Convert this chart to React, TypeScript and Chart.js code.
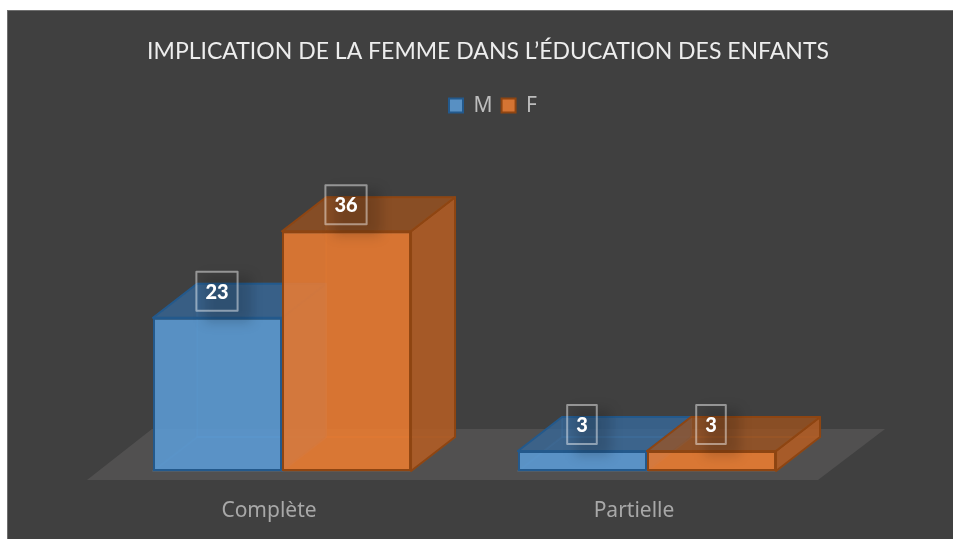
import React, { useEffect, useRef } from "react";
import { Chart, registerables } from "chart.js";

Chart.register(...registerables);

const categories = ["Complète", "Partielle"];
const seriesM = [23, 3];
const seriesF = [36, 3];
const seriesNames = ["M", "F"];

const DX = 44;
const DY = -34;

type Tone = { front: string; border: string; top: string; side: string; inner: string; edge: string };
const tones: Tone[] = [
  { front: "rgba(91,155,213,0.88)", border: "#23598c", top: "rgba(52,105,158,0.72)", side: "rgba(52,105,158,0.8)", inner: "rgba(91,155,213,0.10)", edge: "rgba(91,155,213,0.18)" },
  { front: "rgba(237,125,49,0.86)", border: "#8e4512", top: "rgba(160,82,28,0.72)", side: "rgba(176,92,36,0.88)", inner: "rgba(237,125,49,0.10)", edge: "rgba(237,125,49,0.14)" },
];

const poly = (ctx: CanvasRenderingContext2D, pts: number[][], fill: string, stroke?: string) => {
  ctx.beginPath();
  pts.forEach((p, i) => (i ? ctx.lineTo(p[0], p[1]) : ctx.moveTo(p[0], p[1])));
  ctx.closePath();
  ctx.fillStyle = fill;
  ctx.fill();
  if (stroke) {
    ctx.strokeStyle = stroke;
    ctx.lineWidth = 2;
    ctx.lineJoin = "round";
    ctx.stroke();
  }
};

const box3d = {
  id: "box3d",
  afterLayout(chart: any) {
    const lg = chart.legend;
    lg.left += 5;
    lg.right += 5;
    lg.top += 1.5;
    lg.bottom += 1.5;
  },
  beforeDatasetDraw() {
    return false;
  },
  beforeDatasetsDraw(chart: any) {
    const { ctx } = chart;
    const x = chart.scales.x;
    const base = chart.scales.y.getPixelForValue(0);
    poly(
      ctx,
      [
        [x.left - 12.5, base + 9],
        [x.left + 52.5, base - 42],
        [x.right + 55.5, base - 42],
        [x.right - 11.5, base + 9],
      ],
      "#515050"
    );
    chart.data.datasets.forEach((_: any, i: number) => {
      const t = tones[i];
      const meta = chart.getDatasetMeta(i);
      meta.data.forEach((b: any) => {
        const l = b.x - b.width / 2;
        const r = b.x + b.width / 2;
        poly(ctx, [[l + DX, b.y + DY], [r + DX, b.y + DY], [r + DX, b.base + DY], [l + DX, b.base + DY]], t.inner, t.edge);
        poly(ctx, [[l, b.base], [r, b.base], [r + DX, b.base + DY], [l + DX, b.base + DY]], t.inner, t.edge);
      });
      meta.controller.draw();
      meta.data.forEach((b: any) => {
        const l = b.x - b.width / 2;
        const r = b.x + b.width / 2;
        poly(ctx, [[r, b.y], [r + DX, b.y + DY], [r + DX, b.base + DY], [r, b.base]], t.side, t.border);
        poly(ctx, [[l, b.y], [r, b.y], [r + DX, b.y + DY], [l + DX, b.y + DY]], t.top, t.border);
      });
    });
  },
  afterDatasetsDraw(chart: any) {
    const { ctx } = chart;
    chart.data.datasets.forEach((ds: any, i: number) => {
      chart.getDatasetMeta(i).data.forEach((b: any, j: number) => {
        const text = String(ds.data[j]);
        ctx.font = "900 20px Lato";
        const w = ctx.measureText(text).width + 18;
        const h = 39;
        const cx = b.x - 0.5;
        const cy = b.y - 26.5;
        ctx.save();
        ctx.filter = "blur(6px)";
        ctx.fillStyle = "rgba(0,0,0,0.16)";
        ctx.fillRect(cx - w / 2 + 8, cy - h / 2 + 4, w + 6, h + 8);
        ctx.restore();
        ctx.strokeStyle = "rgba(255,255,255,0.45)";
        ctx.lineWidth = 2;
        ctx.strokeRect(cx - w / 2, cy - h / 2, w, h);
        ctx.fillStyle = "#ffffff";
        ctx.textAlign = "center";
        ctx.textBaseline = "middle";
        ctx.fillText(text, cx, cy + 1);
      });
    });
  },
};

export default function App() {
  const ref = useRef<HTMLCanvasElement>(null);
  useEffect(() => {
    const chart = new Chart(ref.current!, {
      type: "bar",
      data: {
        labels: categories,
        datasets: [
          { label: seriesNames[0], data: seriesM, backgroundColor: tones[0].front, borderColor: tones[0].border, borderWidth: 2, borderSkipped: false },
          { label: seriesNames[1], data: seriesF, backgroundColor: tones[1].front, borderColor: tones[1].border, borderWidth: 2, borderSkipped: false },
        ],
      },
      options: {
        responsive: false,
        animation: false,
        layout: { padding: { left: 99.5, right: 76.5, top: 0, bottom: 0 } },
        datasets: { bar: { barPercentage: 1, categoryPercentage: 0.707 } },
        plugins: {
          tooltip: { enabled: false },
          title: {
            display: true,
            text: "IMPLICATION DE LA FEMME DANS L’ÉDUCATION DES ENFANTS",
            color: "#ededed",
            font: { family: "Lato", size: 23, weight: "normal" },
            padding: { top: 38, bottom: 19 },
          },
          legend: {
            position: "top",
            labels: {
              color: "#bdbdbd",
              font: { family: "Noto Sans", size: 21 },
              boxWidth: 14,
              boxHeight: 14,
              padding: 9,
            },
          },
        },
        scales: {
          x: {
            grid: { display: false },
            border: { display: false },
            ticks: { color: "#a8a8a8", font: { family: "Noto Sans", size: 21 }, padding: 19, labelOffset: -13 },
            afterFit: (s: any) => {
              s.height = 68;
            },
          },
          y: { display: false, min: 0, max: 52 },
          yPad: {
            position: "right",
            display: true,
            grid: { display: false },
            border: { display: false },
            ticks: { display: false },
            afterFit: (s: any) => {
              s.width = 47;
            },
          },
        },
      },
      plugins: [box3d],
    } as any);
    return () => chart.destroy();
  }, []);
  return (
    <div style={{ position: "absolute", left: 0, top: 0, width: 953, height: 539, background: "#fff", overflow: "hidden" }}>
      <div style={{ position: "absolute", left: 7, top: 10, width: 946, height: 529, background: "#404040", boxShadow: "inset 1px 1px 0 #6f6f6f" }} />
      <canvas ref={ref} width={953} height={539} style={{ position: "absolute", left: 0, top: 0 }} />
    </div>
  );
}
